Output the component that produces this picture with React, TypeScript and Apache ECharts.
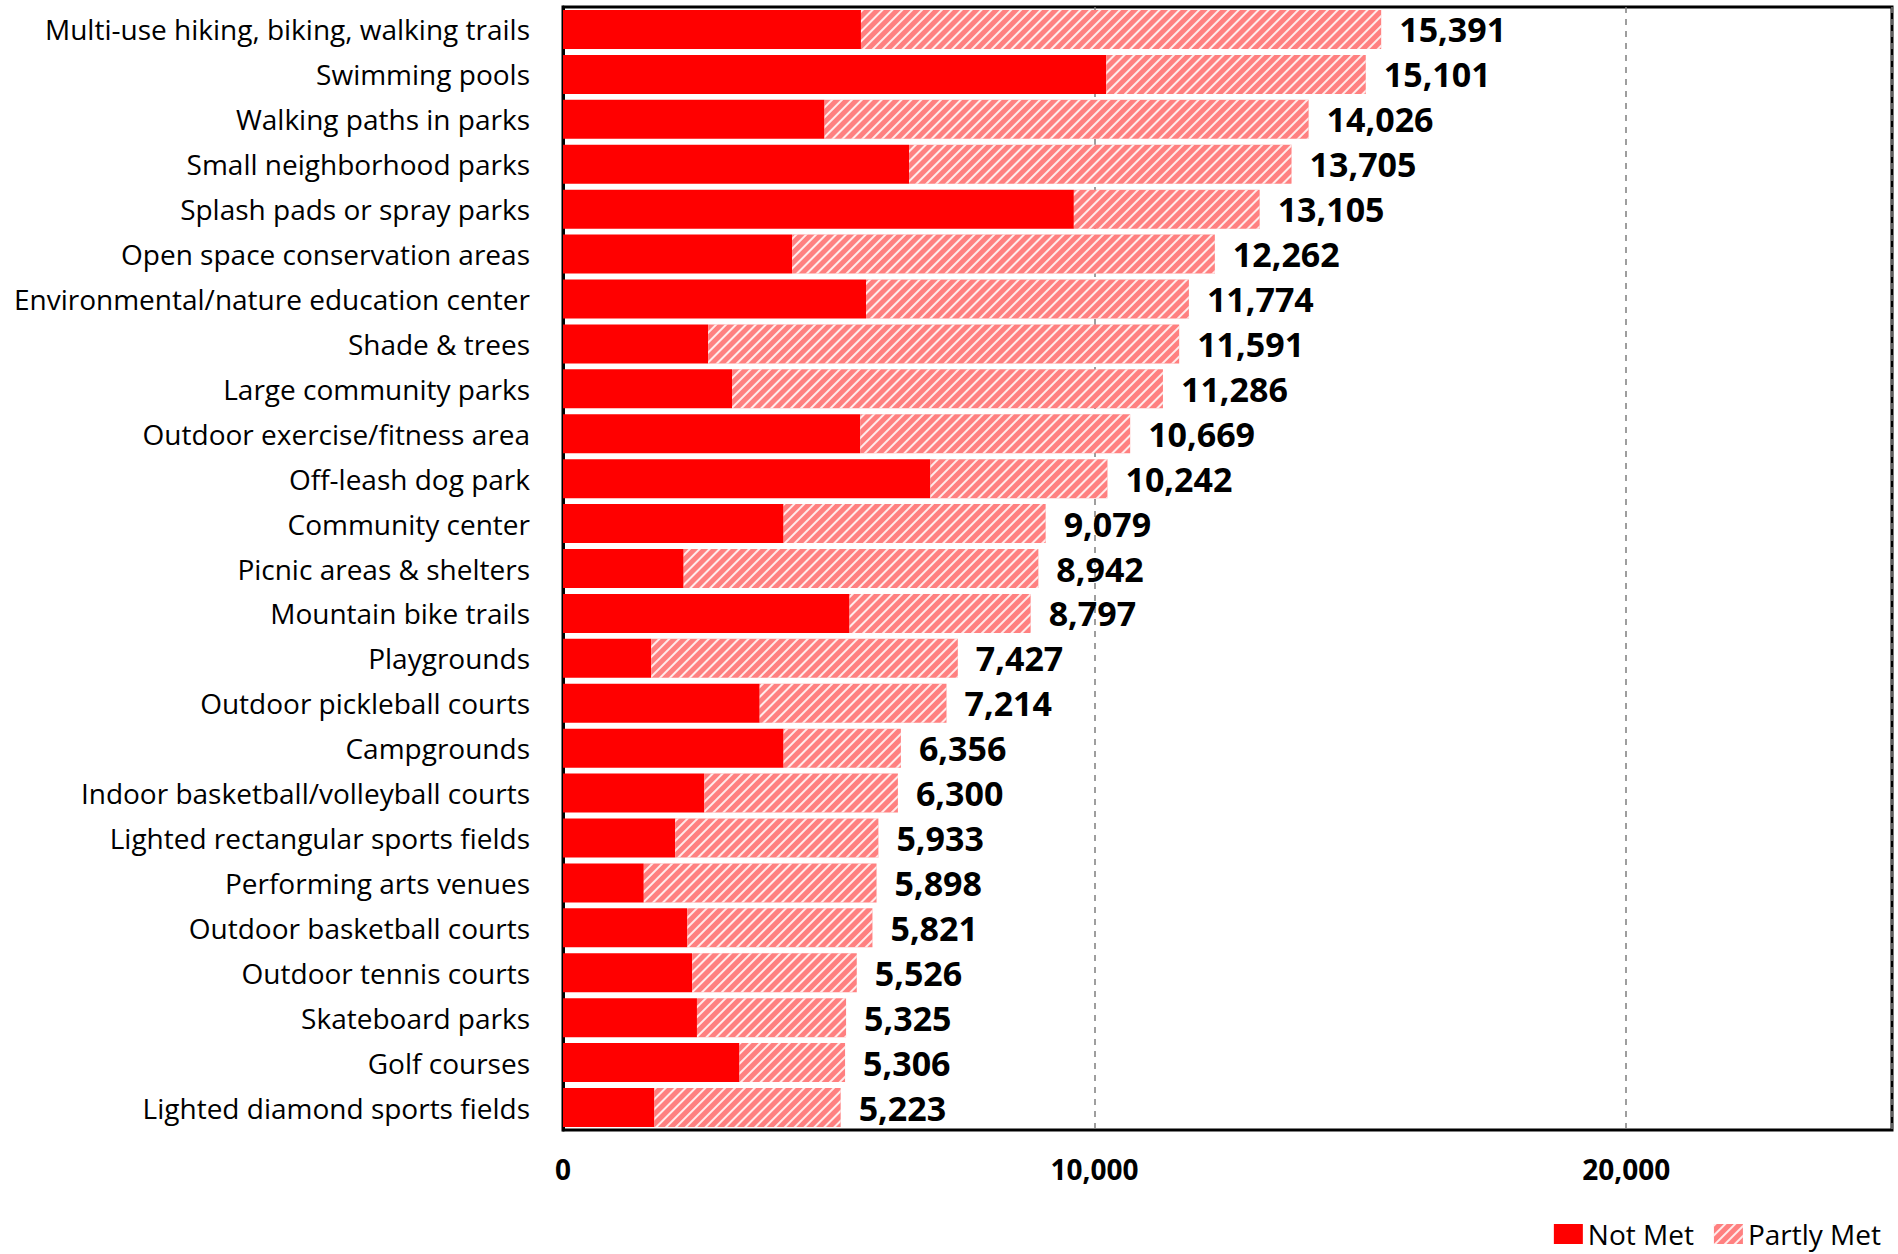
import React, { useEffect, useRef } from "react";
import * as echarts from "echarts";

const categories = [
  "Multi-use hiking, biking, walking trails",
  "Swimming pools",
  "Walking paths in parks",
  "Small neighborhood parks",
  "Splash pads or spray parks",
  "Open space conservation areas",
  "Environmental/nature education center",
  "Shade & trees",
  "Large community parks",
  "Outdoor exercise/fitness area",
  "Off-leash dog park",
  "Community center",
  "Picnic areas & shelters",
  "Mountain bike trails",
  "Playgrounds",
  "Outdoor pickleball courts",
  "Campgrounds",
  "Indoor basketball/volleyball courts",
  "Lighted rectangular sports fields",
  "Performing arts venues",
  "Outdoor basketball courts",
  "Outdoor tennis courts",
  "Skateboard parks",
  "Golf courses",
  "Lighted diamond sports fields",
];

const totals = [
  15391, 15101, 14026, 13705, 13105, 12262, 11774, 11591, 11286, 10669, 10242,
  9079, 8942, 8797, 7427, 7214, 6356, 6300, 5933, 5898, 5821, 5526, 5325, 5306,
  5223,
];

const notMet = [
  5605, 10220, 4920, 6510, 9610, 4310, 5700, 2730, 3180, 5590, 6910, 4150, 2270,
  5390, 1660, 3700, 4150, 2660, 2110, 1520, 2340, 2430, 2520, 3320, 1720,
];

const partlyMet = totals.map((t, i) => t - notMet[i]);

const xTicks = [0, 10000, 20000];

const FONT = "'Open Sans', 'Noto Sans', sans-serif";

export default function App() {
  const ref = useRef<HTMLDivElement>(null);
  useEffect(() => {
    document.body.style.margin = "0";
    const chart = echarts.init(ref.current!, null, { renderer: "svg" });
    chart.setOption({
      animation: false,
      textStyle: { fontFamily: FONT },
      grid: {
        left: 563,
        right: 6,
        top: 7,
        bottom: 124,
        show: true,
        borderColor: "#000",
        borderWidth: 3,
        containLabel: false,
      },
      legend: {
        right: 12,
        bottom: 1,
        icon: "rect",
        itemWidth: 29,
        itemHeight: 20,
        itemGap: 20,
        textStyle: { fontSize: 28, color: "#000", fontFamily: FONT },
        data: ["Not Met", "Partly Met"],
      },
      xAxis: {
        type: "value",
        min: 0,
        max: 25000,
        interval: 10000,
        axisLine: { show: false },
        axisTick: { show: false },
        axisLabel: {
          fontSize: 28,
          fontWeight: "bold",
          color: "#000",
          margin: 25,
          fontFamily: FONT,
          formatter: (v: number) =>
            xTicks.includes(v) ? v.toLocaleString("en-US") : "",
        },
        splitLine: {
          show: true,
          lineStyle: { color: "#7f7f7f", type: [6, 6], width: 1.5 },
        },
      },
      yAxis: {
        type: "category",
        inverse: true,
        data: categories,
        axisLine: { show: true, lineStyle: { color: "#000", width: 3 } },
        axisTick: { show: false },
        axisLabel: {
          fontSize: 28,
          color: "#000",
          margin: 33,
          fontFamily: FONT,
        },
      },
      series: [
        {
          name: "Not Met",
          type: "bar",
          stack: "total",
          barWidth: 39,
          data: notMet,
          itemStyle: { color: "#ff0000" },
        },
        {
          name: "Partly Met",
          type: "bar",
          stack: "total",
          barWidth: 39,
          data: partlyMet,
          itemStyle: {
            color: "#ff8080",
            decal: {
              symbol: "rect",
              symbolSize: 1,
              color: "rgba(255,255,255,0.85)",
              dashArrayX: [1, 0],
              dashArrayY: [1.2, 4.5],
              rotation: -Math.PI / 4,
            },
          },
          label: {
            show: true,
            position: "right",
            distance: 18,
            fontSize: 34,
            fontWeight: "bold",
            color: "#000",
            fontFamily: FONT,
            formatter: (p: any) => totals[p.dataIndex].toLocaleString("en-US"),
          },
        },
      ],
    });
    return () => chart.dispose();
  }, []);
  return <div ref={ref} style={{ width: 1898, height: 1254 }} />;
}
